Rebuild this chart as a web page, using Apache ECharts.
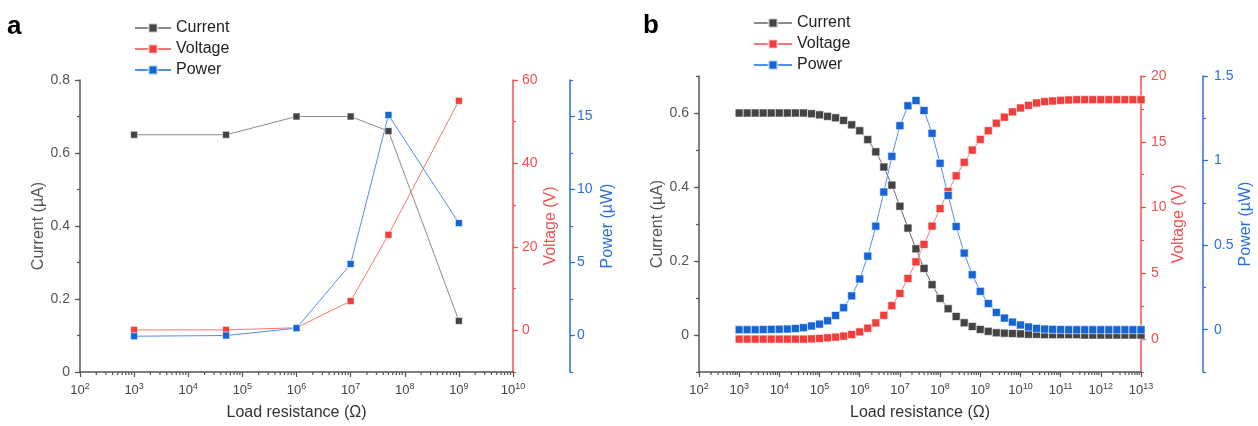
<!DOCTYPE html>
<html>
<head>
<meta charset="utf-8">
<script src="https://cdn.jsdelivr.net/npm/echarts@6/dist/echarts.min.js"></script>
<style>
html,body{margin:0;padding:0;background:#fff;}
#chart{width:1258px;height:426px;}
</style>
</head>
<body>
<div id="chart"></div>
<script>
// ---------- Panel a data ----------
const resA = [1e3, 5e4, 1e6, 1e7, 5e7, 1e9];
const currentA = [0.65, 0.65, 0.70, 0.70, 0.66, 0.14];
const voltageA = [0.1, 0.1, 0.6, 7.0, 22.9, 55.0];
const powerA = [-0.05, 0.0, 0.5, 4.9, 15.1, 7.7];

// ---------- Panel b data (log10 of load resistance) ----------
const resExpB = [3.0,3.2,3.4,3.6,3.8,4.0,4.2,4.4,4.6,4.8,5.0,5.2,5.4,5.6,5.8,6.0,6.2,6.4,6.6,6.8,
  7.0,7.2,7.4,7.6,7.8,8.0,8.2,8.4,8.6,8.8,9.0,9.2,9.4,9.6,9.8,10.0,10.2,10.4,10.6,10.8,
  11.0,11.2,11.4,11.6,11.8,12.0,12.2,12.4,12.6,12.8,13.0];
const currentB = [0.600,0.600,0.600,0.600,0.600,0.600,0.600,0.600,0.600,0.598,
  0.595,0.591,0.587,0.580,0.568,0.552,0.528,0.495,0.454,0.405,
  0.348,0.289,0.233,0.180,0.136,0.099,0.071,0.050,0.033,0.023,
  0.015,0.010,0.006,0.005,0.004,0.003,0.002,0.002,0.001,0.001,
  0.001,0.001,0.001,0.000,0.000,0.000,0.000,0.000,0.000,0.000,0.000];
const voltageB = [0.00,0.00,0.00,0.00,0.00,0.00,0.00,0.00,0.00,0.02,
  0.05,0.10,0.15,0.23,0.35,0.55,0.83,1.23,1.81,2.54,
  3.47,4.61,5.87,7.20,8.59,9.92,11.23,12.41,13.44,14.37,
  15.18,15.84,16.41,16.87,17.27,17.57,17.77,17.95,18.05,18.10,
  18.15,18.18,18.20,18.20,18.20,18.20,18.20,18.20,18.20,18.20,18.20];
const powerB = [0.000,0.000,0.000,0.001,0.002,0.003,0.004,0.007,0.012,0.022,
  0.033,0.053,0.084,0.130,0.200,0.300,0.435,0.612,0.814,1.025,
  1.206,1.324,1.355,1.296,1.161,0.984,0.794,0.610,0.453,0.325,
  0.227,0.155,0.102,0.069,0.045,0.028,0.016,0.008,0.004,0.002,
  0.001,0.000,0.000,0.000,0.000,0.000,0.000,0.000,0.000,0.000,0.000];

// ---------- axis tick labels ----------
const currentTicksA = [0, 0.2, 0.4, 0.6, 0.8];
const voltageTicksA = [0, 20, 40, 60];
const powerTicksA = [0, 5, 10, 15];
const currentTicksB = [0, 0.2, 0.4, 0.6];
const voltageTicksB = [0, 5, 10, 15, 20];
const powerTicksB = [0, 0.5, 1, 1.5];

const FONT = "'Liberation Sans', Arial, sans-serif";
const GRAY = '#444444', GRAY_LINE = '#8a8a8a', GRAY_AX = '#555555';
const RED = '#f23d3d', RED_LINE = '#f27878', RED_AX = '#f25050';
const BLUE = '#1565d8', BLUE_LINE = '#4f8ff0', BLUE_AX = '#2a70dc';

function yPair(grid, pos, offset, min, max, majors, step, color, name, nameGap, labelMargin) {
  return [
    {type:'value', gridIndex:grid, position:pos, offset:offset, min:min, max:max,
     name:name, nameLocation:'middle', nameRotate:90, nameGap:nameGap,
     nameTextStyle:{color:color, fontSize:16, fontFamily:FONT},
     axisLine:{show:true, onZero:false, lineStyle:{color:color, width:1.5}},
     axisTick:{show:true, inside:false, length:5, customValues:majors, lineStyle:{color:color, width:1.2}},
     axisLabel:{show:true, customValues:majors, color:color, fontSize:14, margin:labelMargin, fontFamily:FONT},
     splitLine:{show:false}},
    {type:'value', gridIndex:grid, position:pos, offset:offset, min:min, max:max, interval:step,
     axisLine:{show:false, onZero:false},
     axisTick:{show:true, inside:false, length:3, lineStyle:{color:color, width:1.2}},
     axisLabel:{show:false}, splitLine:{show:false}}
  ];
}

const yAxes = [].concat(
  yPair(0, 'left', 0, 0, 0.8, currentTicksA, 0.1, GRAY_AX, 'Current (µA)', 30, 10),      // 0,1
  yPair(0, 'right', 0, -10, 60, voltageTicksA, 10, RED_AX, 'Voltage (V)', 30, 9),        // 2,3
  yPair(0, 'right', 57, -2.5, 17.5, powerTicksA, 2.5, BLUE_AX, 'Power (µW)', 30, 7),     // 4,5
  yPair(1, 'left', 0, -0.1, 0.7, currentTicksB, 0.1, GRAY_AX, 'Current (µA)', 33, 10),   // 6,7
  yPair(1, 'right', 0, -2.5, 20, voltageTicksB, 2.5, RED_AX, 'Voltage (V)', 29, 10),     // 8,9
  yPair(1, 'right', 62, -0.25, 1.5, powerTicksB, 0.25, BLUE_AX, 'Power (µW)', 31, 11)    // 10,11
);

function xAxisDef(grid, maxExp) {
  return {
    type:'log', logBase:10, gridIndex:grid, min:100, max:Math.pow(10, maxExp),
    interval:1, splitNumber:maxExp-2,
    name:'Load resistance (Ω)', nameLocation:'middle', nameGap:33,
    nameTextStyle:{color:'#333', fontSize:16, fontFamily:FONT},
    axisLine:{show:true, onZero:false, lineStyle:{color:GRAY_AX, width:1.5}},
    axisTick:{show:true, inside:false, length:5, lineStyle:{color:GRAY_AX, width:1.2}},
    axisLabel:{
      margin:10, color:'#444', fontFamily:FONT, interval:0, hideOverlap:false,
      formatter:function(v){ return '{b|10}{s|' + Math.round(Math.log10(v)) + '}'; },
      rich:{
        b:{fontSize:13, color:'#444', fontFamily:FONT},
        s:{fontSize:9, color:'#444', fontFamily:FONT, padding:[0,0,7,0]}
      }
    },
    splitLine:{show:false}
  };
}

function minorTickData(maxExp, yVal) {
  const out = [];
  for (let n = 2; n < maxExp; n++) for (let m = 2; m <= 9; m++) out.push([m * Math.pow(10, n), yVal]);
  return out;
}

function minorTickSeries(xi, yi, maxExp, yVal) {
  return {
    type:'custom', xAxisIndex:xi, yAxisIndex:yi, silent:true, clip:false, z:1,
    data:minorTickData(maxExp, yVal),
    renderItem:function(params, api){
      const x = api.coord([api.value(0), api.value(1)])[0];
      const cs = params.coordSys;
      const y = cs.y + cs.height;
      return {type:'line', shape:{x1:x, y1:y, x2:x, y2:y+3}, style:{stroke:GRAY_AX, lineWidth:1.2}};
    }
  };
}

function zip(xs, ys) { return xs.map((x, i) => [x, ys[i]]); }

function lineSeries(name, xi, yi, data, color, lineColor, size) {
  return {
    name:name, type:'line', xAxisIndex:xi, yAxisIndex:yi, data:data,
    symbol:'rect', symbolSize:size, showSymbol:true,
    itemStyle:{color:color, borderColor:'rgba(255,255,255,0.6)', borderWidth:1},
    lineStyle:{color:lineColor, width:1},
    emphasis:{disabled:true}, z:3
  };
}

const resB = resExpB.map(e => Math.pow(10, e));

const option = {
  animation:false,
  backgroundColor:'#ffffff',
  textStyle:{fontFamily:FONT},
  grid:[
    {left:80, top:80, width:433, height:292},
    {left:699, top:76, width:442, height:297}
  ],
  xAxis:[xAxisDef(0, 10), xAxisDef(1, 13)],
  yAxis:yAxes,
  legend:[
    {orient:'vertical', left:129, top:15, itemWidth:36, itemHeight:11, itemGap:5,
     textStyle:{fontSize:16, color:'#222', fontFamily:FONT}, data:['Current','Voltage','Power']},
    {orient:'vertical', left:748, top:10, itemWidth:38, itemHeight:11, itemGap:5,
     textStyle:{fontSize:16, color:'#222', fontFamily:FONT}, data:['Current','Voltage','Power']}
  ],
  graphic:[
    {type:'text', left:7, top:14, style:{text:'a', font:"bold 26px 'Liberation Sans', Arial", fill:'#000'}},
    {type:'text', left:643, top:13, style:{text:'b', font:"bold 26px 'Liberation Sans', Arial", fill:'#000'}}
  ],
  series:[
    minorTickSeries(0, 0, 10, 0),
    minorTickSeries(1, 6, 13, 0),
    lineSeries('Current', 0, 0, zip(resA, currentA), GRAY, GRAY_LINE, 7),
    lineSeries('Voltage', 0, 2, zip(resA, voltageA), RED, RED_LINE, 7),
    lineSeries('Power', 0, 4, zip(resA, powerA), BLUE, BLUE_LINE, 7),
    lineSeries('Current', 1, 6, zip(resB, currentB), GRAY, '#666666', 8),
    lineSeries('Voltage', 1, 8, zip(resB, voltageB), RED, RED_LINE, 8),
    lineSeries('Power', 1, 10, zip(resB, powerB), BLUE, BLUE_LINE, 8)
  ]
};

const chart = echarts.init(document.getElementById('chart'), null, {renderer:'canvas'});
chart.setOption(option);
</script>
</body>
</html>
